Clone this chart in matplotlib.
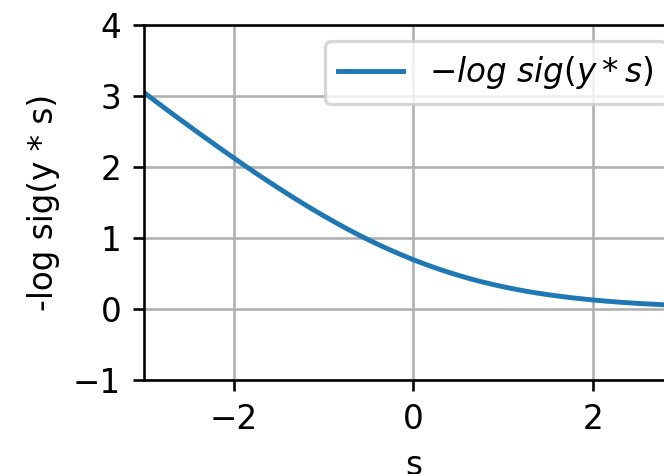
import matplotlib
matplotlib.use("Agg")
import matplotlib.pyplot as plt

# values
s_vals = [-3.0, -2.875, -2.75, -2.625, -2.5, -2.375, -2.25, -2.125,
          -2.0, -1.875, -1.75, -1.625, -1.5, -1.375, -1.25, -1.125,
          -1.0, -0.875, -0.75, -0.625, -0.5, -0.375, -0.25, -0.125,
          0.0, 0.125, 0.25, 0.375, 0.5, 0.625, 0.75, 0.875,
          1.0, 1.125, 1.25, 1.375, 1.5, 1.625, 1.75, 1.875,
          2.0, 2.125, 2.25, 2.375, 2.5, 2.625, 2.75, 2.875, 3.0]
loss_vals = [3.049, 2.929, 2.811, 2.694, 2.579, 2.464, 2.351, 2.238,
             2.127, 2.017, 1.909, 1.804, 1.701, 1.600, 1.501, 1.405,
             1.313, 1.223, 1.136, 1.053, 0.974, 0.898, 0.826, 0.758,
             0.693, 0.633, 0.576, 0.523, 0.474, 0.428, 0.386, 0.348,
             0.313, 0.281, 0.251, 0.225, 0.201, 0.180, 0.160, 0.143,
             0.127, 0.113, 0.100, 0.089, 0.079, 0.070, 0.062, 0.055, 0.049]
x_ticks = [-2, 0, 2]
y_ticks = [-1, 0, 1, 2, 3, 4]

DPI = 235
fig = plt.figure(figsize=(664 / DPI, 474 / DPI), dpi=DPI)
ax = fig.add_axes([144 / 664, (474 - 380) / 474, (683 - 144) / 664, (380 - 25) / 474])

ax.plot(s_vals, loss_vals, label=r"$-log\ sig(y*s)$")
ax.set_xlim(-3, 3)
ax.set_ylim(-1, 4)
ax.set_xticks(x_ticks)
ax.set_yticks(y_ticks)
ax.grid(True)
ax.set_xlabel("s")
ax.set_ylabel("-log sig(y * s)")
ax.legend(loc="upper right")

fig.savefig("out.png", dpi=DPI)
